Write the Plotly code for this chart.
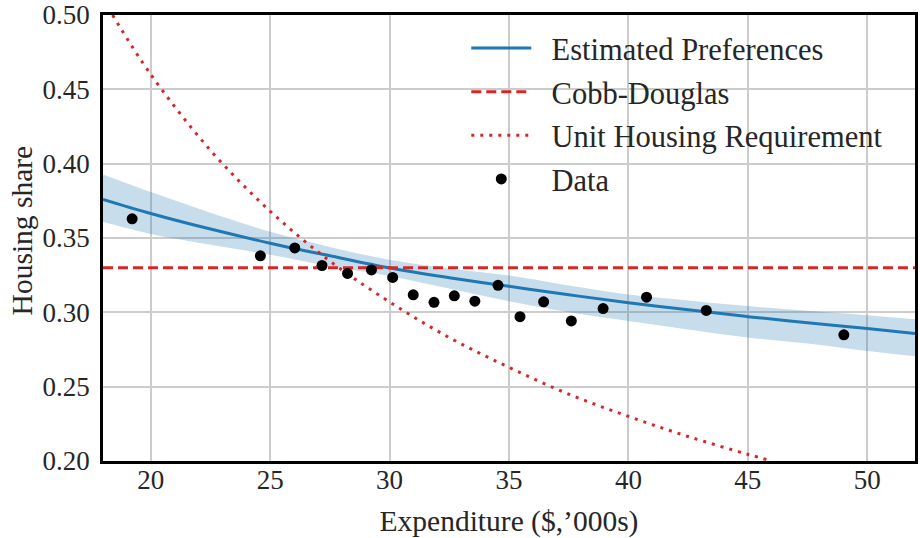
import plotly.graph_objects as go

# ---- data ----
data_x = [19.22, 24.59, 26.03, 27.17, 28.24, 29.24, 30.13, 30.99, 31.86, 32.71,
          33.57, 34.54, 35.46, 36.45, 37.61, 38.94, 40.76, 43.26, 49.02]
data_y = [0.3629, 0.3380, 0.3433, 0.3315, 0.3262, 0.3285, 0.3235, 0.3118, 0.3067, 0.3111,
          0.3075, 0.3182, 0.2971, 0.3071, 0.2942, 0.3025, 0.3102, 0.3013, 0.2849]

est_x = [18, 20, 22.5, 25, 27.5, 30, 32.5, 35, 37.5, 40, 42.5, 45, 47.5, 50, 52]
est_y = [0.3760, 0.3665, 0.3560, 0.3465, 0.3380, 0.3298, 0.3233, 0.3175, 0.3118,
         0.3065, 0.3017, 0.2971, 0.2930, 0.2891, 0.2858]
band_hi = [0.3927, 0.3809, 0.3670, 0.3542, 0.3440, 0.3353, 0.3295, 0.3247, 0.3180,
           0.3120, 0.3080, 0.3042, 0.3010, 0.2980, 0.2953]
band_lo = [0.3609, 0.3527, 0.3455, 0.3387, 0.3310, 0.3245, 0.3160, 0.3075, 0.3000,
           0.2942, 0.2885, 0.2831, 0.2790, 0.2740, 0.2705]

cobb_x = [18, 52]
cobb_y = [0.33, 0.33]

unit_x = [18.4, 20, 22.5, 25, 27.5, 30, 32.5, 35, 37.5, 40, 42.5, 45, 46]
unit_y = [0.500, 0.460, 0.409, 0.368, 0.3345, 0.307, 0.283, 0.263, 0.245, 0.230,
          0.2165, 0.2045, 0.200]

x_ticks = [20, 25, 30, 35, 40, 45, 50]
y_ticks = [0.20, 0.25, 0.30, 0.35, 0.40, 0.45, 0.50]

series_names = ["Estimated Preferences", "Cobb-Douglas", "Unit Housing Requirement", "Data"]

BLUE = "#1f77b4"
RED = "#d62728"
FONT = "Liberation Serif"
TXT = "#262626"
GAP = "\u2002"

fig = go.Figure()

# confidence band
fig.add_trace(go.Scatter(x=est_x, y=band_hi, mode="lines", line=dict(width=0, shape="spline"),
                         showlegend=False, hoverinfo="skip"))
fig.add_trace(go.Scatter(x=est_x, y=band_lo, mode="lines", line=dict(width=0, shape="spline"),
                         fill="tonexty", fillcolor="rgba(31,119,180,0.25)",
                         showlegend=False, hoverinfo="skip"))

fig.add_trace(go.Scatter(x=est_x, y=est_y, mode="lines", name=GAP + series_names[0],
                         line=dict(color=BLUE, width=3, shape="spline"),
                         legendgroup="a"))
fig.add_trace(go.Scatter(x=cobb_x, y=cobb_y, mode="lines", name=GAP + series_names[1],
                         line=dict(color=RED, width=3, dash="10px,5px"),
                         legendgroup="b"))
fig.add_trace(go.Scatter(x=unit_x, y=unit_y, mode="lines", name=GAP + series_names[2],
                         line=dict(color=RED, width=3, dash="3px,6px", shape="spline"),
                         legendgroup="c"))
fig.add_trace(go.Scatter(x=data_x, y=data_y, mode="markers", name=GAP + series_names[3],
                         marker=dict(color="black", size=11),
                         legendgroup="d"))

axis_common = dict(
    showline=True, linecolor="black", linewidth=2.5, mirror=True,
    showgrid=True, gridcolor="#cccccc", gridwidth=1.5,
    ticks="", ticklen=0, zeroline=False, automargin=False,
    ticklabeloverflow="allow",
    tickfont=dict(family=FONT, size=27, color=TXT),
)

fig.update_xaxes(range=[18, 52], tickvals=x_ticks, ticktext=[str(v) for v in x_ticks],
                 title=dict(text="Expenditure ($,’000s)", font=dict(family=FONT, size=29.5, color=TXT),
                            standoff=17),
                 ticklabelstandoff=-7,
                 **axis_common)
fig.update_yaxes(range=[0.20, 0.50], tickvals=y_ticks, ticktext=[f"{v:.2f}" for v in y_ticks],
                 ticklabelstandoff=5,
                 **axis_common)

fig.add_annotation(text="Housing share", xref="paper", yref="paper",
                   x=-0.0998, y=0.517, textangle=-90, showarrow=False,
                   xanchor="center", yanchor="middle",
                   font=dict(family=FONT, size=29.5, color=TXT))

fig.update_layout(
    width=920, height=538,
    margin=dict(l=103, r=5, t=15, b=77),
    paper_bgcolor="white", plot_bgcolor="white",
    font=dict(family=FONT, size=27, color=TXT),
    legend=dict(x=0.4474, y=0.985, xanchor="left", yanchor="top",
                bgcolor="rgba(0,0,0,0)", borderwidth=0,
                font=dict(family=FONT, size=30.5, color=TXT),
                itemwidth=60, tracegroupgap=1),
)

fig.write_html("out.html",
               config={"displayModeBar": False},
               post_script="document.body.style.margin='0';document.body.style.overflow='hidden';")
